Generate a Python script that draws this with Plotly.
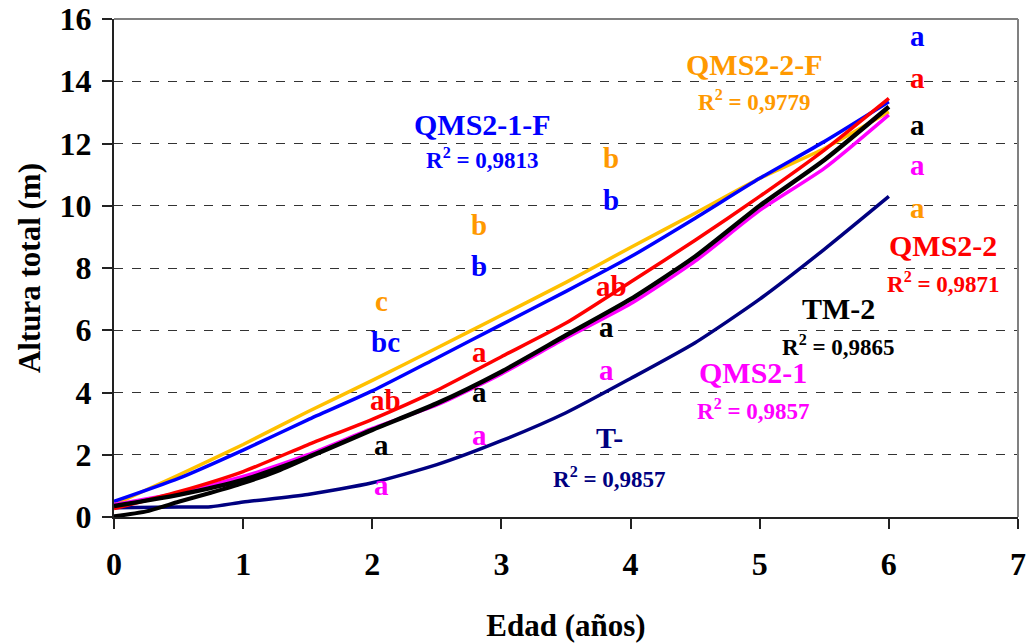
import plotly.graph_objects as go

# ---- data ----
edad = [0, 0.5, 1, 1.5, 2, 2.5, 3, 3.5, 4, 4.5, 5, 5.5, 6]
qms2_2_f = [0.40, 1.35, 2.33, 3.38, 4.39, 5.43, 6.48, 7.54, 8.66, 9.76, 10.88, 11.84, 13.02]
qms2_1_f = [0.50, 1.24, 2.15, 3.12, 4.05, 5.11, 6.18, 7.25, 8.36, 9.60, 10.88, 12.06, 13.34]
qms2_2 = [0.27, 0.81, 1.46, 2.32, 3.14, 4.07, 5.15, 6.23, 7.55, 8.89, 10.30, 11.79, 13.45]
qms2_1 = [0.40, 0.77, 1.30, 2.00, 2.85, 3.60, 4.60, 5.75, 6.85, 8.22, 9.85, 11.20, 12.92]
tm_2 = [0.35, 0.71, 1.19, 1.92, 2.80, 3.65, 4.67, 5.84, 7.00, 8.37, 10.00, 11.47, 13.18]
tm_2_start_x = [0, 0.25, 0.5, 0.75, 1, 1.25, 1.5]
tm_2_start = [0.02, 0.18, 0.49, 0.78, 1.09, 1.45, 1.90]
t_x = [0, 0.5, 0.75, 1, 1.5, 2, 2.5, 3, 3.5, 4, 4.5, 5, 5.5, 6]
t_ = [0.30, 0.32, 0.33, 0.48, 0.72, 1.10, 1.68, 2.45, 3.35, 4.45, 5.60, 7.00, 8.60, 10.30]

x_ticks = [0, 1, 2, 3, 4, 5, 6, 7]
y_ticks = [0, 2, 4, 6, 8, 10, 12, 14, 16]

# series names, R2 labels and significance letters
names = ["QMS2-1-F", "QMS2-2-F", "QMS2-2", "TM-2", "QMS2-1", "T-"]
r2 = ["0,9813", "0,9779", "0,9871", "0,9865", "0,9857", "0,9857"]
letters_blue = ["bc", "b", "b", "a"]
letters_orange = ["c", "b", "b", "a"]
letters_red = ["ab", "a", "ab", "a"]
letters_black = ["a", "a", "a", "a"]
letters_magenta = ["a", "a", "a", "a"]

BLUE = "#0000FF"
GOLD = "#FFC000"
ORANGE = "#FF9900"
RED = "#FF0000"
MAGENTA = "#FF00FF"
NAVY = "#000080"
BLACK = "#000000"
FONT = "Liberation Serif"

fig = go.Figure()

def line(x, y, color, width):
    fig.add_trace(go.Scatter(x=x, y=y, mode="lines", line=dict(color=color, width=width, shape="spline", smoothing=0.6),
                             showlegend=False, hoverinfo="skip"))

line(t_x, t_, NAVY, 3.5)
line(edad, qms2_2_f, GOLD, 3.5)
line(edad, qms2_1_f, BLUE, 3.5)
line(edad, qms2_1, MAGENTA, 3.5)
line(edad, qms2_2, RED, 3.5)
line(tm_2_start_x, tm_2_start, BLACK, 4)
line(edad, tm_2, BLACK, 4.5)

annotations = []

def txt(x, y, text, color, size):
    annotations.append(dict(x=x, y=y, xref="x", yref="y", text="<b>" + text + "</b>", showarrow=False,
                            font=dict(family=FONT, size=size, color=color), xanchor="center", yanchor="middle"))

# series titles and R2
title_pos = {
    "QMS2-1-F": (2.857, 12.62, 11.53, BLUE),
    "QMS2-2-F": (4.956, 14.55, 13.38, ORANGE),
    "QMS2-2": (6.42, 8.72, 7.54, RED),
    "TM-2": (5.609, 6.69, 5.51, BLACK),
    "QMS2-1": (4.95, 4.65, 3.47, MAGENTA),
    "T-": (3.837, 2.56, 1.28, NAVY),
}
for n, r in zip(names, r2):
    x, yt, yr, c = title_pos[n]
    txt(x, yt, n, c, 30)
    txt(x, yr, "R<sup>2</sup> = " + r, c, 23)

letter_x = [2.10, 2.83, 3.85, 6.22]
pos_blue = [5.62, 8.05, 10.17, 15.45]
pos_orange = [6.95, 9.39, 11.54, 9.93]
pos_red = [3.75, 5.31, 7.41, 14.09]
pos_black = [2.31, 4.03, 6.12, 12.59]
pos_magenta = [1.03, 2.64, 4.73, 11.30]
for lets, ys, c in [(letters_blue, pos_blue, BLUE), (letters_orange, pos_orange, ORANGE),
                    (letters_red, pos_red, RED), (letters_black, pos_black, BLACK),
                    (letters_magenta, pos_magenta, MAGENTA)]:
    for i, (l, yv) in enumerate(zip(lets, ys)):
        xv = letter_x[i]
        if i == 0 and len(l) == 1:
            xv = 2.07
        if i == 2 and c in (BLACK, MAGENTA):
            xv = 3.81
        txt(xv, yv, l, c, 29)

fig.update_layout(
    width=1026, height=643,
    margin=dict(l=114, r=8, t=19, b=126),
    paper_bgcolor="white", plot_bgcolor="white",
    annotations=annotations,
    shapes=[
        dict(type="line", xref="x domain", yref="y domain", x0=0, x1=1, y0=1, y1=1,
             line=dict(color="#808080", width=2)),
        dict(type="line", xref="x domain", yref="y domain", x0=1, x1=1, y0=0, y1=1,
             line=dict(color="#808080", width=2)),
    ],
    xaxis=dict(
        range=[0, 7], tickvals=x_ticks, ticks="outside", ticklen=10, tickwidth=1.5, tickcolor="#222",
        showline=True, linecolor="#222", linewidth=2, showgrid=False, zeroline=False, automargin=False,
        ticklabeloverflow="allow",
        tickfont=dict(family=FONT, size=32, color="black", weight="bold"), ticklabelstandoff=8,
        title=dict(text="<b>Edad (años)</b>", font=dict(family=FONT, size=31, color="black"), standoff=41),
    ),
    yaxis=dict(
        range=[0, 16], tickvals=y_ticks, ticks="outside", ticklen=10, tickwidth=1.5, tickcolor="#222",
        showline=True, linecolor="#222", linewidth=2, showgrid=True, gridcolor="#333", gridwidth=1,
        griddash="dash", zeroline=False, automargin=False, ticklabeloverflow="allow",
        tickfont=dict(family=FONT, size=32, color="black", weight="bold"), ticklabelstandoff=4,
        title=dict(text="<b>Altura total (m)</b>", font=dict(family=FONT, size=31, color="black"), standoff=10),
    ),
)

fig.write_html("out.html", config={"displayModeBar": False},
               post_script="document.body.style.margin='0';document.body.style.overflow='hidden';")
